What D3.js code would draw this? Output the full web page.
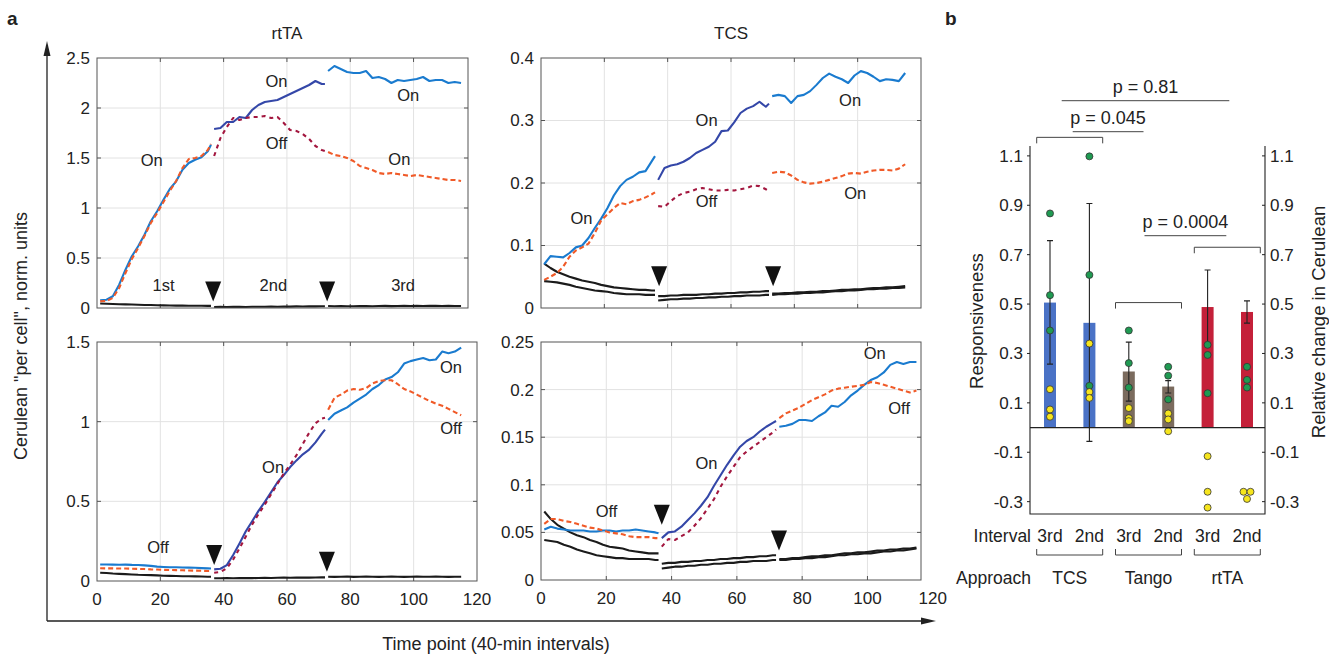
<!DOCTYPE html>
<html>
<head>
<meta charset="utf-8">
<script src="https://cdn.jsdelivr.net/npm/d3@7"></script>
<style>
  body { margin: 0; background: #fff; }
  text { font-family: "Liberation Sans", Arial, Helvetica, sans-serif; fill: #222; }
</style>
</head>
<body>
<svg id="fig" width="1329" height="654"></svg>
<script>
// ---- time points of the three intervals ----
var seg1T = [1,3,5,7,9,11,13,15,17,19,21,23,25,27,29,31,33,35,36];
var seg2T = [37,39,41,43,45,47,49,51,53,55,57,59,61,63,65,67,69,71,72];
var seg3T = [73,75,77,79,81,83,85,87,89,91,93,95,97,99,101,103,105,107,109,111,113,115];

// ---- rtTA, top ----
var tlA1 = [0.077,0.083,0.117,0.233,0.383,0.517,0.617,0.733,0.867,0.967,1.083,1.19,1.267,1.383,1.45,1.483,1.507,1.567,1.633];
var tlB1 = [0.067,0.07,0.1,0.2,0.35,0.49,0.6,0.72,0.85,0.95,1.06,1.17,1.27,1.4,1.49,1.5,1.52,1.58,1.64];
var tlA2 = [1.79,1.8,1.86,1.86,1.91,1.9,1.98,2.03,2.06,2.07,2.08,2.11,2.14,2.17,2.2,2.23,2.27,2.24,2.24];
var tlB2 = [1.52,1.7,1.81,1.9,1.88,1.9,1.91,1.91,1.92,1.9,1.91,1.85,1.78,1.77,1.74,1.69,1.62,1.58,1.57];
var tlA3 = [2.37,2.42,2.39,2.36,2.35,2.35,2.37,2.3,2.31,2.29,2.25,2.28,2.27,2.28,2.29,2.31,2.27,2.28,2.28,2.25,2.26,2.25];
var tlB3 = [1.56,1.53,1.52,1.5,1.47,1.42,1.4,1.38,1.35,1.34,1.35,1.34,1.33,1.32,1.33,1.32,1.31,1.3,1.29,1.28,1.28,1.27];
var tlK1 = [0.045,0.042,0.04,0.038,0.036,0.035,0.033,0.03,0.03,0.028,0.026,0.025,0.024,0.024,0.023,0.022,0.022,0.021,0.021];
var tlK2 = [0.01,0.012,0.01,0.011,0.012,0.01,0.012,0.013,0.012,0.014,0.013,0.015,0.014,0.016,0.015,0.017,0.016,0.018,0.018];
var tlK3 = [0.02,0.018,0.019,0.017,0.018,0.02,0.019,0.018,0.02,0.021,0.019,0.02,0.022,0.02,0.021,0.02,0.022,0.021,0.02,0.021,0.02,0.02];

// ---- TCS, top ----
var trA1 = [0.07,0.083,0.082,0.081,0.088,0.097,0.1,0.112,0.128,0.143,0.16,0.18,0.195,0.205,0.21,0.217,0.219,0.235,0.243];
var trB1 = [0.045,0.05,0.056,0.066,0.082,0.092,0.097,0.103,0.12,0.14,0.15,0.16,0.168,0.166,0.171,0.173,0.177,0.182,0.185];
var trA2 = [0.205,0.224,0.228,0.23,0.234,0.24,0.248,0.253,0.258,0.266,0.283,0.284,0.297,0.312,0.319,0.323,0.33,0.322,0.327];
var trB2 = [0.163,0.162,0.171,0.179,0.184,0.186,0.19,0.192,0.19,0.188,0.188,0.189,0.188,0.19,0.192,0.196,0.195,0.19,0.187];
var trA3 = [0.339,0.341,0.339,0.328,0.339,0.341,0.347,0.357,0.368,0.375,0.37,0.366,0.36,0.372,0.379,0.376,0.37,0.363,0.366,0.365,0.363,0.376];
var trB3 = [0.216,0.218,0.217,0.212,0.205,0.201,0.199,0.2,0.202,0.205,0.208,0.211,0.215,0.216,0.215,0.218,0.22,0.221,0.221,0.22,0.223,0.23];
var trK1a = [0.071,0.064,0.058,0.054,0.05,0.047,0.044,0.042,0.04,0.037,0.035,0.033,0.032,0.031,0.03,0.029,0.029,0.028,0.028];
var trK1b = [0.043,0.042,0.041,0.039,0.037,0.034,0.032,0.03,0.028,0.027,0.026,0.024,0.023,0.022,0.022,0.022,0.021,0.021,0.021];
var trK2a = [0.019,0.019,0.02,0.02,0.021,0.021,0.021,0.022,0.022,0.023,0.023,0.024,0.024,0.025,0.025,0.026,0.026,0.027,0.027];
var trK2b = [0.012,0.013,0.014,0.014,0.015,0.015,0.016,0.016,0.017,0.017,0.018,0.018,0.019,0.019,0.02,0.02,0.02,0.021,0.021];
var trK3a = [0.023,0.023,0.024,0.024,0.025,0.025,0.026,0.026,0.027,0.027,0.028,0.029,0.029,0.03,0.03,0.031,0.032,0.032,0.033,0.033,0.034,0.035];
var trK3b = [0.021,0.022,0.022,0.023,0.023,0.024,0.024,0.025,0.025,0.026,0.027,0.027,0.028,0.028,0.029,0.03,0.03,0.031,0.031,0.032,0.032,0.033];

// ---- rtTA, bottom ----
var blA1 = [0.104,0.104,0.103,0.102,0.103,0.101,0.1,0.098,0.095,0.09,0.088,0.086,0.086,0.085,0.084,0.083,0.081,0.079,0.078];
var blB1 = [0.08,0.079,0.079,0.078,0.078,0.077,0.076,0.075,0.073,0.072,0.07,0.069,0.068,0.067,0.066,0.065,0.064,0.063,0.063];
var blA2 = [0.073,0.077,0.1,0.163,0.236,0.312,0.375,0.44,0.497,0.558,0.62,0.665,0.715,0.757,0.795,0.825,0.87,0.925,0.95];
var blB2 = [0.052,0.057,0.08,0.135,0.205,0.28,0.355,0.42,0.48,0.545,0.61,0.675,0.73,0.79,0.86,0.93,0.99,1.02,1.025];
var blA3 = [1.01,1.05,1.07,1.09,1.12,1.145,1.17,1.205,1.23,1.265,1.28,1.31,1.365,1.38,1.39,1.4,1.385,1.39,1.44,1.43,1.44,1.465];
var blB3 = [1.075,1.15,1.17,1.195,1.205,1.2,1.21,1.24,1.255,1.26,1.26,1.235,1.205,1.19,1.17,1.15,1.13,1.113,1.1,1.08,1.06,1.04];
var blK1 = [0.052,0.05,0.047,0.045,0.043,0.041,0.039,0.038,0.037,0.035,0.033,0.032,0.031,0.03,0.03,0.029,0.028,0.027,0.027];
var blK2 = [0.017,0.017,0.018,0.017,0.018,0.019,0.018,0.019,0.02,0.019,0.02,0.021,0.02,0.021,0.022,0.021,0.022,0.023,0.023];
var blK3 = [0.027,0.026,0.027,0.028,0.026,0.027,0.028,0.027,0.026,0.027,0.028,0.027,0.026,0.027,0.028,0.027,0.027,0.028,0.027,0.026,0.027,0.027];

// ---- TCS, bottom ----
var brA1 = [0.053,0.056,0.054,0.053,0.052,0.052,0.052,0.051,0.051,0.052,0.052,0.051,0.052,0.052,0.053,0.052,0.051,0.05,0.049];
var brB1 = [0.059,0.064,0.064,0.062,0.061,0.059,0.057,0.055,0.054,0.052,0.05,0.049,0.048,0.046,0.045,0.045,0.045,0.044,0.044];
var brA2 = [0.044,0.05,0.051,0.056,0.063,0.07,0.078,0.087,0.099,0.11,0.121,0.131,0.14,0.146,0.15,0.156,0.161,0.165,0.167];
var brB2 = [0.035,0.043,0.042,0.046,0.05,0.057,0.065,0.075,0.085,0.098,0.109,0.119,0.129,0.135,0.14,0.145,0.15,0.155,0.158];
var brA3 = [0.161,0.162,0.164,0.168,0.168,0.167,0.172,0.176,0.183,0.182,0.187,0.194,0.199,0.205,0.21,0.213,0.218,0.226,0.229,0.227,0.229,0.229];
var brB3 = [0.17,0.175,0.178,0.181,0.185,0.189,0.192,0.195,0.199,0.201,0.202,0.203,0.204,0.205,0.208,0.207,0.205,0.203,0.201,0.199,0.197,0.199];
var brK1a = [0.072,0.064,0.058,0.054,0.05,0.047,0.045,0.042,0.04,0.037,0.035,0.034,0.033,0.031,0.03,0.029,0.028,0.028,0.028];
var brK1b = [0.042,0.041,0.04,0.037,0.035,0.032,0.03,0.028,0.026,0.025,0.024,0.023,0.023,0.022,0.022,0.022,0.022,0.021,0.021];
var brK2a = [0.017,0.018,0.018,0.019,0.019,0.02,0.02,0.021,0.021,0.022,0.022,0.023,0.023,0.024,0.024,0.025,0.025,0.026,0.026];
var brK2b = [0.012,0.013,0.014,0.014,0.015,0.015,0.016,0.016,0.017,0.017,0.018,0.018,0.019,0.019,0.02,0.02,0.02,0.021,0.021];
var brK3a = [0.022,0.022,0.023,0.023,0.024,0.025,0.025,0.026,0.026,0.027,0.028,0.028,0.029,0.029,0.03,0.031,0.031,0.032,0.032,0.033,0.033,0.034];
var brK3b = [0.021,0.021,0.022,0.022,0.023,0.023,0.024,0.024,0.025,0.026,0.026,0.027,0.027,0.028,0.028,0.029,0.03,0.03,0.031,0.031,0.032,0.033];

// ---- induction arrows (time, tip value) and text labels ----
var tlArrowT = [36.7, 72.7], tlArrowV = [0.066, 0.066];
var trArrowT = [37.3, 73.3], trArrowV = [0.035, 0.035];
var blArrowT = [37, 72.6],   blArrowV = [0.1, 0.058];
var brArrowT = [37, 72.9],   brArrowV = [0.058, 0.031];

var tlLabels = [["On",17.3,1.48],["On",56.7,2.27],["Off",56.7,1.65],["On",98.3,2.13],["On",95.5,1.49],["1st",21,0.23],["2nd",55.7,0.23],["3rd",96.7,0.23]];
var trLabels = [["On",12.8,0.144],["On",52.3,0.301],["Off",52.3,0.171],["On",97.6,0.333],["On",99.2,0.184]];
var blLabels = [["Off",19.3,0.215],["On",55.6,0.717],["On",111.8,1.343],["Off",111.8,0.957]];
var brLabels = [["Off",20.1,0.072],["On",50.7,0.123],["On",102.2,0.238],["Off",109.7,0.18]];

var xTicks = [0,20,40,60,80,100,120];
var tlTicks = [0,0.5,1,1.5,2,2.5];
var trTicks = [0,0.1,0.2,0.3,0.4];
var blTicks = [0,0.5,1,1.5];
var brTicks = [0,0.05,0.1,0.15,0.2,0.25];

// ---- panel b ----
var intervals = ["3rd","2nd","3rd","2nd","3rd","2nd"];
var approaches = ["TCS","Tango","rtTA"];
var barVals = [0.506,0.424,0.227,0.166,0.488,0.468];
var errHi = [0.757,0.907,0.346,0.19,0.638,0.513];
var errLo = [0.257,-0.056,0.107,0.14,0.34,0.423];
var greenPts = [[0.867,0.536,0.393],[1.098,0.618,0.169],[0.393,0.261,0.162],[0.246,0.21,0.114],[0.335,0.294,0.139],[0.246,0.193,0.162]];
var yellowPts = [[0.155,0.073,0.044],[0.34,0.144,0.12],[0.079,0.038,0.026],[0.057,0.033,-0.015],[-0.116,-0.26,-0.324],[-0.26,-0.26,-0.289]];
var bTicks = [-0.3,-0.1,0.1,0.3,0.5,0.7,0.9,1.1];
var pLabels = ["p = 0.81","p = 0.045","p = 0.0004"];

var cBlue = "#1a7bcf", cOrange = "#f05a28", cNavy = "#3447a8", cRed = "#a3173f", cBlack = "#1b1b1b";
var approachColors = ["#4a72c6", "#7b6b5e", "#c42039"];

var svg = d3.select("#fig");
svg.append("rect").attr("width", 1329).attr("height", 654).attr("fill", "#fff");

function drawPanel(p) {
  var x = d3.scaleLinear().domain(p.xDomain).range([p.left, p.right]);
  var y = d3.scaleLinear().domain(p.yDomain).range([p.bottom, p.top]);
  var g = svg.append("g");
  var gx = xTicks.filter(function(t) { return t > p.xDomain[0] && t < p.xDomain[1]; });
  var gy = p.yTicks.filter(function(v) { return v > p.yDomain[0] && v < p.yDomain[1]; });

  g.selectAll(".gx").data(gx).enter().append("line")
    .attr("x1", function(d) { return x(d); }).attr("x2", function(d) { return x(d); })
    .attr("y1", p.top).attr("y2", p.bottom)
    .attr("stroke", "#e2e2e2").attr("stroke-width", 1);
  g.selectAll(".gy").data(gy).enter().append("line")
    .attr("x1", p.left).attr("x2", p.right)
    .attr("y1", function(d) { return y(d); }).attr("y2", function(d) { return y(d); })
    .attr("stroke", "#e2e2e2").attr("stroke-width", 1);

  // inward tick marks on all four sides
  gx.forEach(function(t) {
    g.append("line").attr("x1", x(t)).attr("x2", x(t)).attr("y1", p.bottom).attr("y2", p.bottom - 4).attr("stroke", "#555");
    g.append("line").attr("x1", x(t)).attr("x2", x(t)).attr("y1", p.top).attr("y2", p.top + 4).attr("stroke", "#555");
  });
  gy.forEach(function(v) {
    g.append("line").attr("x1", p.left).attr("x2", p.left + 4).attr("y1", y(v)).attr("y2", y(v)).attr("stroke", "#555");
    g.append("line").attr("x1", p.right).attr("x2", p.right - 4).attr("y1", y(v)).attr("y2", y(v)).attr("stroke", "#555");
  });

  g.selectAll(".yl").data(p.yTicks).enter().append("text")
    .attr("x", p.left - 7).attr("y", function(d) { return y(d); }).attr("dy", "0.35em")
    .attr("text-anchor", "end").attr("font-size", 17).text(function(d) { return String(d); });

  if (p.xLabels) {
    g.selectAll(".xl").data(xTicks).enter().append("text")
      .attr("x", function(d) { return x(d); }).attr("y", p.bottom + 24)
      .attr("text-anchor", "middle").attr("font-size", 17).text(function(d) { return d; });
  }

  var line = d3.line().x(function(d) { return x(d[0]); }).y(function(d) { return y(d[1]); });
  p.series.forEach(function(s) {
    g.append("path")
      .datum(s.t.map(function(t, i) { return [t, s.v[i]]; }))
      .attr("d", line).attr("fill", "none")
      .attr("stroke", s.color).attr("stroke-width", 2.1)
      .attr("stroke-dasharray", s.dash || null)
      .attr("stroke-linejoin", "round");
  });

  g.append("rect").attr("x", p.left).attr("y", p.top)
    .attr("width", p.right - p.left).attr("height", p.bottom - p.top)
    .attr("fill", "none").attr("stroke", "#555").attr("stroke-width", 1);

  p.arrowT.forEach(function(t, i) {
    var tx = x(t), ty = y(p.arrowV[i]);
    g.append("path")
      .attr("d", "M" + (tx - 8) + "," + (ty - 20) + "L" + (tx + 8) + "," + (ty - 20) + "L" + tx + "," + ty + "Z")
      .attr("fill", "#111");
  });

  g.selectAll(".lab").data(p.labels).enter().append("text")
    .attr("x", function(d) { return x(d[1]); }).attr("y", function(d) { return y(d[2]); })
    .attr("dy", "0.35em").attr("text-anchor", "middle").attr("font-size", 16.5)
    .text(function(d) { return d[0]; });
}

function rtTAseries(a1, b1, a2, b2, a3, b3, k1, k2, k3) {
  return [
    {t: seg1T, v: k1, color: cBlack}, {t: seg2T, v: k2, color: cBlack}, {t: seg3T, v: k3, color: cBlack},
    {t: seg1T, v: a1, color: cBlue}, {t: seg1T, v: b1, color: cOrange, dash: "5,3"},
    {t: seg2T, v: a2, color: cNavy}, {t: seg2T, v: b2, color: cRed, dash: "4,4"},
    {t: seg3T, v: a3, color: cBlue}, {t: seg3T, v: b3, color: cOrange, dash: "5,3"}
  ];
}

drawPanel({left: 97, right: 468, top: 58, bottom: 308, xDomain: [0, 117.2], yDomain: [0, 2.5],
  yTicks: tlTicks, xLabels: false, arrowT: tlArrowT, arrowV: tlArrowV, labels: tlLabels,
  series: rtTAseries(tlA1, tlB1, tlA2, tlB2, tlA3, tlB3, tlK1, tlK2, tlK3)});

drawPanel({left: 97, right: 477, top: 342, bottom: 581, xDomain: [0, 120], yDomain: [0, 1.5],
  yTicks: blTicks, xLabels: true, arrowT: blArrowT, arrowV: blArrowV, labels: blLabels,
  series: rtTAseries(blA1, blB1, blA2, blB2, blA3, blB3, blK1, blK2, blK3)});

drawPanel({left: 541, right: 921, top: 58, bottom: 308, xDomain: [0, 120], yDomain: [0, 0.4],
  yTicks: trTicks, xLabels: false, arrowT: trArrowT, arrowV: trArrowV, labels: trLabels,
  series: [
    {t: seg1T, v: trK1a, color: cBlack}, {t: seg1T, v: trK1b, color: cBlack},
    {t: seg2T, v: trK2a, color: cBlack}, {t: seg2T, v: trK2b, color: cBlack},
    {t: seg3T, v: trK3a, color: cBlack}, {t: seg3T, v: trK3b, color: cBlack},
    {t: seg1T, v: trA1, color: cBlue}, {t: seg1T, v: trB1, color: cOrange, dash: "5,3"},
    {t: seg2T, v: trA2, color: cNavy}, {t: seg2T, v: trB2, color: cRed, dash: "4,4"},
    {t: seg3T, v: trA3, color: cBlue}, {t: seg3T, v: trB3, color: cOrange, dash: "5,3"}
  ]});

drawPanel({left: 541, right: 921, top: 342, bottom: 580, xDomain: [0, 116.4], yDomain: [0, 0.25],
  yTicks: brTicks, xLabels: true, arrowT: brArrowT, arrowV: brArrowV, labels: brLabels,
  series: [
    {t: seg1T, v: brK1a, color: cBlack}, {t: seg1T, v: brK1b, color: cBlack},
    {t: seg2T, v: brK2a, color: cBlack}, {t: seg2T, v: brK2b, color: cBlack},
    {t: seg3T, v: brK3a, color: cBlack}, {t: seg3T, v: brK3b, color: cBlack},
    {t: seg1T, v: brA1, color: cBlue}, {t: seg1T, v: brB1, color: cOrange, dash: "5,3"},
    {t: seg2T, v: brA2, color: cNavy}, {t: seg2T, v: brB2, color: cRed, dash: "4,4"},
    {t: seg3T, v: brA3, color: cBlue}, {t: seg3T, v: brB3, color: cOrange, dash: "5,3"}
  ]});

// panel a frame: titles, arrows and axis names
svg.append("text").attr("x", 7).attr("y", 25).attr("font-size", 19).attr("font-weight", "bold").text("a");
svg.append("text").attr("x", 287).attr("y", 39).attr("text-anchor", "middle").attr("font-size", 17).text("rtTA");
svg.append("text").attr("x", 731).attr("y", 39).attr("text-anchor", "middle").attr("font-size", 17).text("TCS");
svg.append("path").attr("d", "M47,621V52M47,621H925").attr("stroke", "#222").attr("stroke-width", 1.3).attr("fill", "none");
svg.append("path").attr("d", "M47,41L43.5,56L50.5,56Z").attr("fill", "#222");
svg.append("path").attr("d", "M936,621L921,617.5L921,624.5Z").attr("fill", "#222");
svg.append("text").attr("transform", "translate(27,336) rotate(-90)").attr("text-anchor", "middle")
  .attr("font-size", 18).text('Cerulean "per cell", norm. units');
svg.append("text").attr("x", 496).attr("y", 650).attr("text-anchor", "middle").attr("font-size", 18)
  .text("Time point (40-min intervals)");

// ---- panel b ----
var yB = d3.scaleLinear().domain([-0.35, 1.14]).range([514, 146]);
var xB = d3.scalePoint().domain(d3.range(intervals.length)).range([1050, 1247]);
var bL = 1030, bR = 1265;
var gb = svg.append("g");

gb.append("text").attr("x", 945).attr("y", 25).attr("font-size", 19).attr("font-weight", "bold").text("b");

gb.selectAll(".bar").data(barVals).enter().append("rect")
  .attr("x", function(d, i) { return xB(i) - 6; }).attr("width", 12)
  .attr("y", function(d) { return yB(d); }).attr("height", function(d) { return yB(0) - yB(d); })
  .attr("fill", function(d, i) { return approachColors[Math.floor(i / 2)]; });

barVals.forEach(function(d, i) {
  var cx = xB(i);
  gb.append("path")
    .attr("d", "M" + cx + "," + yB(errLo[i]) + "V" + yB(errHi[i]) +
      "M" + (cx - 3) + "," + yB(errHi[i]) + "H" + (cx + 3) +
      "M" + (cx - 3) + "," + yB(errLo[i]) + "H" + (cx + 3))
    .attr("stroke", "#222").attr("stroke-width", 1.1).attr("fill", "none");
});

function drawDots(groups, fill) {
  groups.forEach(function(vals, i) {
    vals.forEach(function(v, j) {
      var dup = vals.filter(function(w) { return w === v; }).length > 1;
      var k = vals.slice(0, j).filter(function(w) { return w === v; }).length;
      var off = dup ? (k === 0 ? -3.5 : 3.5) : 0;
      gb.append("circle").attr("cx", xB(i) + off).attr("cy", yB(v)).attr("r", 3.5)
        .attr("fill", fill).attr("stroke", "#333").attr("stroke-width", 0.8);
    });
  });
}
drawDots(greenPts, "#1f9a52");
drawDots(yellowPts, "#f6e51d");

// axes
gb.append("path").attr("d", "M" + bL + "," + yB(1.14) + "V514H" + bR + "V" + yB(1.14))
  .attr("stroke", "#222").attr("stroke-width", 1.1).attr("fill", "none");
gb.append("line").attr("x1", bL).attr("x2", bR).attr("y1", yB(0)).attr("y2", yB(0))
  .attr("stroke", "#222").attr("stroke-width", 1.2);
bTicks.forEach(function(v) {
  gb.append("line").attr("x1", bL - 3).attr("x2", bL).attr("y1", yB(v)).attr("y2", yB(v)).attr("stroke", "#222");
  gb.append("line").attr("x1", bR - 3).attr("x2", bR).attr("y1", yB(v)).attr("y2", yB(v)).attr("stroke", "#222");
  gb.append("text").attr("x", bL - 7).attr("y", yB(v)).attr("dy", "0.35em").attr("text-anchor", "end")
    .attr("font-size", 17).text(String(v));
  gb.append("text").attr("x", bR + 5).attr("y", yB(v)).attr("dy", "0.35em").attr("text-anchor", "start")
    .attr("font-size", 17).text(String(v));
});
gb.append("text").attr("transform", "translate(983,321) rotate(-90)").attr("text-anchor", "middle")
  .attr("font-size", 18.5).text("Responsiveness");
gb.append("text").attr("transform", "translate(1325,322) rotate(-90)").attr("text-anchor", "middle")
  .attr("font-size", 18.5).text("Relative change in Cerulean");

// category rows
gb.append("text").attr("x", bL + 1).attr("y", 542).attr("text-anchor", "end").attr("font-size", 17.5).text("Interval");
gb.selectAll(".iv").data(intervals).enter().append("text")
  .attr("x", function(d, i) { return xB(i); }).attr("y", 542)
  .attr("text-anchor", "middle").attr("font-size", 17.5).text(function(d) { return d; });
gb.append("text").attr("x", bL + 1).attr("y", 584).attr("text-anchor", "end").attr("font-size", 17.5).text("Approach");
approaches.forEach(function(a, k) {
  var c = (xB(2 * k) + xB(2 * k + 1)) / 2;
  gb.append("path").attr("d", "M" + (c - 33) + ",549V555H" + (c + 33) + "V549")
    .attr("stroke", "#444").attr("stroke-width", 1).attr("fill", "none");
  gb.append("text").attr("x", c).attr("y", 584).attr("text-anchor", "middle").attr("font-size", 17.5).text(a);
});

// significance brackets
var gc = approaches.map(function(a, k) { return (xB(2 * k) + xB(2 * k + 1)) / 2; });
var brY = [yB(1.175), yB(0.506), yB(0.73)];
gc.forEach(function(c, k) {
  gb.append("path").attr("d", "M" + (c - 33) + "," + (brY[k] + 6) + "V" + brY[k] + "H" + (c + 33) + "V" + (brY[k] + 6))
    .attr("stroke", "#444").attr("stroke-width", 1).attr("fill", "none");
});
var pSpans = [[gc[0] - 8, gc[2] + 2, 100.7], [gc[0] + 3, gc[1] - 5, 131.7], [gc[1] - 4, gc[2] - 1, 235.7]];
pSpans.forEach(function(s, k) {
  gb.append("line").attr("x1", s[0]).attr("x2", s[1]).attr("y1", s[2]).attr("y2", s[2])
    .attr("stroke", "#444").attr("stroke-width", 1);
  gb.append("text").attr("x", (s[0] + s[1]) / 2).attr("y", s[2] - 8).attr("text-anchor", "middle")
    .attr("font-size", 18).text(pLabels[k]);
});
</script>
</body>
</html>
